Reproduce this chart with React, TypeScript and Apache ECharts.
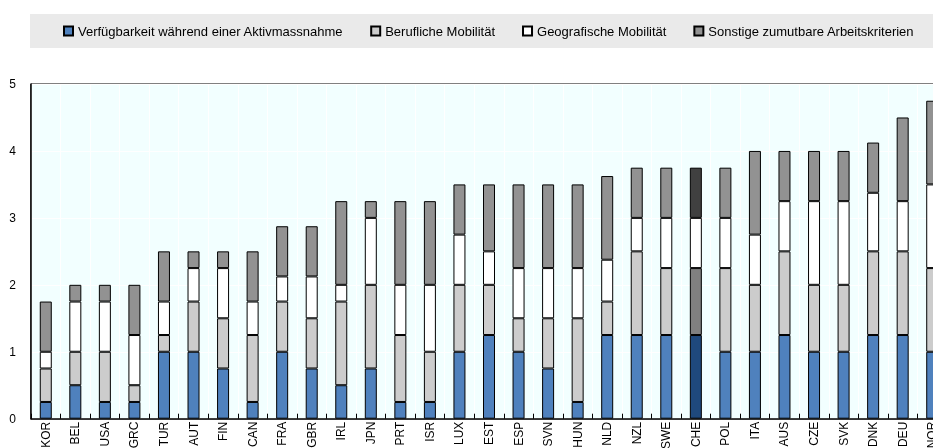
import React, { useEffect, useRef } from "react";
import * as echarts from "echarts";

const categories = [
  "KOR", "BEL", "USA", "GRC", "TUR", "AUT", "FIN", "CAN", "FRA", "GBR",
  "IRL", "JPN", "PRT", "ISR", "LUX", "EST", "ESP", "SVN", "HUN", "NLD",
  "NZL", "SWE", "CHE", "POL", "ITA", "AUS", "CZE", "SVK", "DNK", "DEU", "NOR",
];

const seriesNames = [
  "Verfügbarkeit während einer Aktivmassnahme",
  "Berufliche Mobilität",
  "Geografische Mobilität",
  "Sonstige zumutbare Arbeitskriterien",
];

const verfuegbarkeit = [
  0.25, 0.5, 0.25, 0.25, 1, 1, 0.75, 0.25, 1, 0.75,
  0.5, 0.75, 0.25, 0.25, 1, 1.25, 1, 0.75, 0.25, 1.25,
  1.25, 1.25, 1.25, 1, 1, 1.25, 1, 1, 1.25, 1.25, 1,
];

const beruflich = [
  0.5, 0.5, 0.75, 0.25, 0.25, 0.75, 0.75, 1, 0.75, 0.75,
  1.25, 1.25, 1, 0.75, 1, 0.75, 0.5, 0.75, 1.25, 0.5,
  1.25, 1, 1, 1.25, 1, 1.25, 1, 1, 1.25, 1.25, 1.25,
];

const geografisch = [
  0.25, 0.75, 0.75, 0.75, 0.5, 0.5, 0.75, 0.5, 0.375, 0.625,
  0.25, 1, 0.75, 1, 0.75, 0.5, 0.75, 0.75, 0.75, 0.625,
  0.5, 0.75, 0.75, 0.75, 0.75, 0.75, 1.25, 1.25, 0.875, 0.75, 1.25,
];

const sonstige = [
  0.75, 0.25, 0.25, 0.75, 0.75, 0.25, 0.25, 0.75, 0.75, 0.75,
  1.25, 0.25, 1.25, 1.25, 0.75, 1, 1.25, 1.25, 1.25, 1.25,
  0.75, 0.75, 0.75, 0.75, 1.25, 0.75, 0.75, 0.75, 0.75, 1.25, 1.25,
];

const yTicks = [0, 1, 2, 3, 4, 5];

const highlightCategory = "CHE";
const colors = ["#4F81BD", "#CCCCCC", "#FFFFFF", "#929292"];
const highlightColors = ["#1F497D", "#808080", "#FFFFFF", "#404040"];

const FONT = 'Arial, "Liberation Sans", sans-serif';

export default function App() {
  const ref = useRef<HTMLDivElement>(null);

  useEffect(() => {
    if (!ref.current) return;
    const chart = echarts.init(ref.current, null, { renderer: "svg" });
    const allValues = [verfuegbarkeit, beruflich, geografisch, sonstige];

    const series = allValues.map((vals, si) => ({
      name: seriesNames[si],
      type: "bar",
      stack: "total",
      barWidth: 12,
      itemStyle: { color: colors[si], borderColor: "#000", borderWidth: 1 },
      data: vals.map((v, i) =>
        categories[i] === highlightCategory
          ? { value: v, itemStyle: { color: highlightColors[si] } }
          : v
      ),
    }));

    chart.setOption({
      animation: false,
      textStyle: { fontFamily: FONT },
      graphic: [
        {
          type: "rect",
          z: -10,
          shape: { x: 30, y: 14, width: 910, height: 34 },
          style: { fill: "#EAEAEA" },
          silent: true,
        },
      ],
      legend: {
        left: 63,
        top: 24,
        padding: 0,
        width: 880,
        itemWidth: 9,
        itemHeight: 9,
        itemGap: 27,
        selectedMode: false,
        icon: "rect",
        textStyle: { fontSize: 13, color: "#000", fontFamily: FONT, lineHeight: 14 },
        data: seriesNames,
      },
      grid: {
        left: 31,
        top: 84,
        width: 916,
        height: 334.7,
        outerBoundsMode: "none",
        containLabel: false,
        show: true,
        backgroundColor: "#F2FFFF",
        borderColor: "#000",
        borderWidth: 1,
      },
      xAxis: {
        type: "category",
        data: categories,
        boundaryGap: true,
        axisLine: { lineStyle: { color: "#000", width: 1.5 } },
        axisTick: { show: true, inside: true, length: 5, lineStyle: { color: "#000" } },
        axisLabel: {
          rotate: 90,
          interval: 0,
          margin: 3,
          fontSize: 12,
          color: "#000",
          fontFamily: FONT,
        },
        splitLine: { show: true, lineStyle: { color: "#FFFFFF", width: 1 } },
      },
      yAxis: {
        type: "value",
        min: yTicks[0],
        max: yTicks[yTicks.length - 1],
        interval: 1,
        axisLine: { show: true, lineStyle: { color: "#000", width: 1.5 } },
        axisTick: { show: false },
        axisLabel: { fontSize: 12, color: "#000", margin: 15, fontFamily: FONT },
        splitLine: { show: true, lineStyle: { color: "#FFFFFF", width: 1 } },
      },
      series,
    });

    return () => chart.dispose();
  }, []);

  return (
    <div
      ref={ref}
      style={{ position: "fixed", left: 0, top: 0, width: 933, height: 448 }}
    />
  );
}
